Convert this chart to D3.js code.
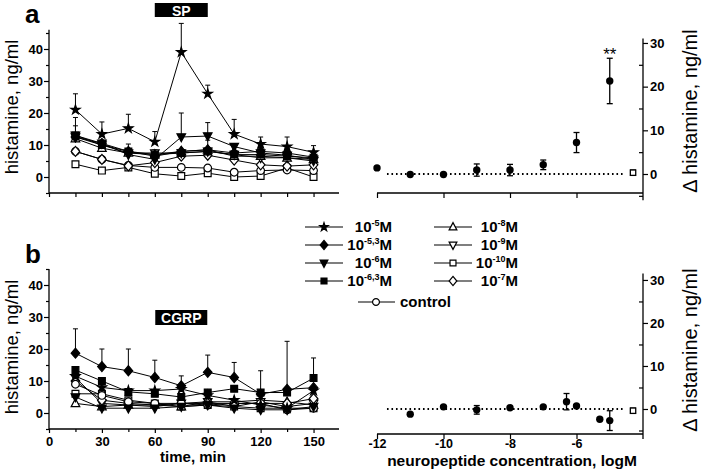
<!DOCTYPE html>
<html><head><meta charset="utf-8">
<script src="https://cdn.jsdelivr.net/npm/d3@7"></script>
<style>
body{margin:0;background:#fff}
svg{display:block;font-family:"Liberation Sans",Arial,Helvetica,sans-serif}
</style></head><body>
<svg id="c" width="703" height="470"></svg>
<script>
// ---------- DATA ----------
const times = [15,30,45,60,75,90,105,120,135,150];
const timeTicks = [0,30,60,90,120,150];
const histTicks = [0,10,20,30,40];
const deltaTicks = [0,10,20,30];
const logTicks = [-12,-10,-8,-6];

// Panel a (SP) time courses, ng/ml
const spE5    = [21,13.4,15.2,11,39,26,13.4,10.3,9.5,7.7];
const spE5err = [5,3.8,4.4,3.2,9,2.7,4.6,2.2,3,2.1];
const spE53   = [12.5,10.5,8,6.5,8,8.5,7.5,8,7.5,6.2];
const spE53err= [0,0,0,0,0,3,0,2,2,1.5];
const spE6    = [13,10.5,7,5.5,12.5,12.8,9.5,7.5,6.8,5.5];
const spE6err = [5.6,0,0,0,7.5,4.2,0,0,0,0];
const spE63   = [13,10,8,7,7.5,8,7,7,6.5,6];
const spE63err= [3,1.5,2.3,1.5,0,0,0,0,0,0];
const spE8    = [12,9,7.5,7,8,8.5,6.5,6.5,6,5.5];
const spE9    = [12.5,10,7.5,7.5,7.5,8,7,6,6,5];
const spE7    = [8,5.5,3.5,4.5,6.5,6.8,5.3,3.8,3.4,3.8];
const spCtrl  = [8,5.5,3.6,3,3,2.8,1.5,2,2.2,2];
const spE10   = [4,2,3,1,0.3,1.2,0,0.3,2.8,0];

// Panel b (CGRP) time courses, ng/ml
const cgE5    = [11.5,8,7,7,7.5,5.5,4,2.5,1.5,7];
const cgE53   = [18.7,14.5,13.2,11.1,8.5,12.7,11.1,5.9,7.4,7.9];
const cgE53err= [7.6,5.5,6.8,5.4,3.1,5.4,4.7,7.3,0,0];
const cgE6    = [5,1.5,1.5,1.5,2,2.5,1.5,1,1,2];
const cgE63   = [13.4,10,6.6,6,5,6.4,7.6,6.4,6.4,10.9];
const cgE63err= [0,0,0,0,0,0,0,0,16,6.3];
const cgE8    = [3,2,2.5,2.5,2,3.5,3.5,4,3.5,2.5];
const cgE9    = [11,3,2.5,2,3,3.5,2,3.5,2,3];
const cgE7    = [10,4,3,2.5,3,3,3,3,3,4.5];
const cgCtrl  = [9,5.5,3.5,3,3,2.5,3,3,1,1.5];
const cgE10   = [6,6,4,3,2,2.5,2,1.5,1.5,1.5];

// Dose-response (delta histamine, ng/ml)
const spDoseX   = [-12,-11,-10,-9,-8,-7,-6,-5];
const spDoseY   = [1.4,-0.1,-0.1,0.9,0.9,2.1,7.2,21.3];
const spDoseErr = [0,0,0,1.4,1.3,1.1,2.3,5.2];
const spCtrlDose = [-4.3, 0.3, 0.6];
const cgDoseX   = [-11,-10,-9,-8,-7,-6.3,-6,-5.3,-5];
const cgDoseY   = [-1.2,0.5,-0.2,0.3,0.5,1.7,0.7,-2.4,-2.7];
const cgDoseErr = [0,0,1,0,0,1.9,0,0,2.3];
const cgCtrlDose = [-4.3, -0.4, 0.6];

// Legend
const legendLeft  = [["e5","-5"],["e53","-5,3"],["e6","-6"],["e63","-6,3"]];
const legendRight = [["e8","-8"],["e9","-9"],["e10","-10"],["e7","-7"]];

// ---------- STYLE ----------
const shapeOf = {e5:"star",e53:"diamond",e6:"tridown",e63:"square",
  e8:"triup",e9:"tridown",e10:"square",e7:"diamond",ctrl:"circle"};
const filledOf = {e5:true,e53:true,e6:true,e63:true,e8:false,e9:false,e10:false,e7:false,ctrl:false};

const svg = d3.select("#c");
const FONT = '"Liberation Sans",Arial,Helvetica,sans-serif';

function markerPath(shape, k){
  const s = 4.3*(k||1);
  switch(shape){
    case "star": return d3.symbol(d3.symbolStar, 27*(k||1)*(k||1))();
    case "diamond": return `M0,${-s-0.7}L${s},0L0,${s+0.7}L${-s},0Z`;
    case "square": return `M${-s+0.9},${-s+0.9}H${s-0.9}V${s-0.9}H${-s+0.9}Z`;
    case "triup": return `M0,${-s-0.5}L${s},${s*0.75}L${-s},${s*0.75}Z`;
    case "tridown": return `M0,${s+0.5}L${s},${-s*0.75}L${-s},${-s*0.75}Z`;
    case "circle": return d3.symbol(d3.symbolCircle, 46*(k||1)*(k||1))();
  }
}
function drawMarker(g, key, cx, cy, k){
  g.append("path").attr("d", markerPath(shapeOf[key], k))
    .attr("transform", `translate(${cx},${cy})`)
    .attr("fill", filledOf[key] ? "#000" : "#fff")
    .attr("stroke", "#000").attr("stroke-width", 1.2);
}

// ---------- SCALES ----------
const xT = d3.scaleLinear().domain([0,165]).range([49,340]);
const yA = d3.scaleLinear().domain([-5,46]).range([193,29.8]);
const yB = d3.scaleLinear().domain([-5,45]).range([429,269]);
const xL = d3.scaleLinear().domain([-12,-4]).range([377,643]);
const yRA = d3.scaleLinear().domain([-6,31]).range([200.2,38.6]);
const yRB = d3.scaleLinear().domain([-7,31.5]).range([439.1,273.5]);

function styleAxis(g, size){
  g.selectAll("path.domain").attr("stroke","#000").attr("stroke-width",1.3);
  g.selectAll(".tick line").attr("stroke","#000").attr("stroke-width",1.2);
  g.selectAll("text").attr("font-family",FONT).attr("font-weight","bold")
    .attr("font-size",size||13).attr("fill","#000");
}
const plain = d => String(d);

function timePanel(y, yBottom, series, labelX){
  const ga = svg.append("g").attr("transform","translate(49,0)")
    .call(d3.axisLeft(y).tickValues(histTicks).tickSize(5).tickPadding(1).tickFormat(plain));
  styleAxis(ga);
  const gm = svg.append("g").attr("transform","translate(49,0)")
    .call(d3.axisLeft(y).tickValues([-5,5,15,25,35,45]).tickSize(3).tickFormat(""));
  styleAxis(gm); gm.select("path.domain").remove();
  const gx = svg.append("g").attr("transform",`translate(0,${yBottom})`)
    .call(d3.axisBottom(xT).tickValues(labelX ? timeTicks : [0,15,30,45,60,75,90,105,120,135,150])
      .tickSize(4).tickPadding(4).tickFormat(labelX ? plain : ""));
  styleAxis(gx);
  if(labelX){
    const gx2 = svg.append("g").attr("transform",`translate(0,${yBottom})`)
      .call(d3.axisBottom(xT).tickValues([15,45,75,105,135]).tickSize(3).tickFormat(""));
    styleAxis(gx2); gx2.select("path.domain").remove();
  }
  gx.select("path.domain").attr("d", `M${xT(0)},0H${xT(165)-1}`);
  ga.select("path.domain").attr("d", `M0,${y(-5)}V${y.range()[1]}`);

  const line = d3.line().x((d,i)=>xT(times[i])).y(d=>y(d));
  const g = svg.append("g");
  series.forEach(s=>{
    g.append("path").attr("d", line(s.v)).attr("fill","none")
      .attr("stroke","#000").attr("stroke-width",1);
  });
  series.forEach(s=>{
    if(!s.err) return;
    s.err.forEach((e,i)=>{
      if(!e) return;
      const cx = xT(times[i]);
      g.append("line").attr("x1",cx).attr("x2",cx).attr("y1",y(s.v[i])).attr("y2",y(s.v[i]+e))
        .attr("stroke","#000").attr("stroke-width",1);
      g.append("line").attr("x1",cx-2.5).attr("x2",cx+2.5).attr("y1",y(s.v[i]+e)).attr("y2",y(s.v[i]+e))
        .attr("stroke","#000").attr("stroke-width",1);
    });
  });
  series.forEach(s=>{
    s.v.forEach((v,i)=>drawMarker(g, s.key, xT(times[i]), y(v)));
  });
}

function dosePanel(y, yBottom, xs, ys, errs, ctrl, showLabels){
  const gx = svg.append("g").attr("transform",`translate(0,${yBottom})`)
    .call(d3.axisBottom(xL).tickValues(logTicks).tickSize(5).tickPadding(0)
      .tickFormat(showLabels ? plain : ""));
  styleAxis(gx, 12.5);
  gx.select("path.domain").attr("d", `M${xL(-12)},0H${xL(-4)}`);
  const gy = svg.append("g").attr("transform","translate(643,0)")
    .call(d3.axisRight(y).tickValues(deltaTicks).tickSize(5).tickPadding(2).tickFormat(plain));
  styleAxis(gy);
  gy.select("path.domain").attr("d", `M0,${y.range()[0]}V${y.range()[1]}`);
  const gm = svg.append("g").attr("transform","translate(643,0)")
    .call(d3.axisLeft(y).tickValues([-5,5,15,25]).tickSize(4).tickFormat(""));
  styleAxis(gm); gm.select("path.domain").remove();

  const g = svg.append("g");
  g.append("line").attr("x1",xL(-11.7)).attr("x2",xL(-4.55)).attr("y1",y(0)).attr("y2",y(0))
    .attr("stroke","#000").attr("stroke-width",1.8).attr("stroke-dasharray","1.6,2.9");
  const bar = (cx, v, e)=>{
    g.append("line").attr("x1",cx).attr("x2",cx).attr("y1",y(v-e)).attr("y2",y(v+e))
      .attr("stroke","#000").attr("stroke-width",1.3);
    [v-e, v+e].forEach(t=>g.append("line").attr("x1",cx-3).attr("x2",cx+3)
      .attr("y1",y(t)).attr("y2",y(t)).attr("stroke","#000").attr("stroke-width",1.3));
  };
  xs.forEach((x,i)=>{ if(errs[i]) bar(xL(x), ys[i], errs[i]); });
  xs.forEach((x,i)=>{
    g.append("circle").attr("cx",xL(x)).attr("cy",y(ys[i])).attr("r",3.7).attr("fill","#000");
  });
  bar(xL(ctrl[0]), ctrl[1], ctrl[2]);
  g.append("rect").attr("x",xL(ctrl[0])-2.7).attr("y",y(ctrl[1])-2.7).attr("width",5.4).attr("height",5.4)
    .attr("fill","#fff").attr("stroke","#000").attr("stroke-width",1.3);
}

// ---------- PANEL A ----------
timePanel(yA, 193, [
  {key:"e10", v:spE10},
  {key:"ctrl", v:spCtrl},
  {key:"e7", v:spE7},
  {key:"e9", v:spE9},
  {key:"e8", v:spE8},
  {key:"e63", v:spE63, err:spE63err},
  {key:"e53", v:spE53, err:spE53err},
  {key:"e6", v:spE6, err:spE6err},
  {key:"e5", v:spE5, err:spE5err}
], false);
dosePanel(yRA, 193, spDoseX, spDoseY, spDoseErr, spCtrlDose, false);

// ---------- PANEL B ----------
timePanel(yB, 429, [
  {key:"e10", v:cgE10},
  {key:"e8", v:cgE8},
  {key:"e9", v:cgE9},
  {key:"e7", v:cgE7},
  {key:"ctrl", v:cgCtrl},
  {key:"e6", v:cgE6},
  {key:"e5", v:cgE5},
  {key:"e63", v:cgE63, err:cgE63err},
  {key:"e53", v:cgE53, err:cgE53err}
], true);
dosePanel(yRB, 434, cgDoseX, cgDoseY, cgDoseErr, cgCtrlDose, true);

// ---------- TEXT ----------
function txt(x,y,s,opts){
  const t = svg.append("text").attr("x",x).attr("y",y).text(s)
    .attr("font-family",FONT).attr("fill",opts.fill||"#000")
    .attr("font-size",opts.size).attr("font-weight",opts.weight||"normal")
    .attr("text-anchor",opts.anchor||"start");
  if(opts.rot) t.attr("transform",`rotate(${opts.rot},${x},${y})`);
  return t;
}
txt(25,23,"a",{size:26,weight:"bold"});
txt(25,263,"b",{size:26,weight:"bold"});
txt(18,107,"histamine, ng/ml",{size:18.5,anchor:"middle",rot:-90});
txt(18,347,"histamine, ng/ml",{size:18.5,anchor:"middle",rot:-90});
txt(697,111,"Δ histamine, ng/ml",{size:20,anchor:"middle",rot:-90});
txt(697,350,"Δ histamine, ng/ml",{size:20,anchor:"middle",rot:-90});
txt(193,462,"time, min",{size:15,weight:"bold",anchor:"middle"});
txt(512,466,"neuropeptide concentration, logM",{size:15.5,weight:"bold",anchor:"middle"});
txt(xL(-5),60,"**",{size:17,anchor:"middle"});

// stimulus boxes
svg.append("rect").attr("x",xT(75)-26.5).attr("y",3).attr("width",53).attr("height",14).attr("fill","#000");
txt(xT(75),15.5,"SP",{size:14,weight:"bold",anchor:"middle",fill:"#fff"});
svg.append("rect").attr("x",xT(75)-26).attr("y",310).attr("width",52).attr("height",15).attr("fill","#000");
txt(xT(75),322.5,"CGRP",{size:14,weight:"bold",anchor:"middle",fill:"#fff"});

// ---------- LEGEND ----------
const rowsY = [227,245,263,281];
function legendItem(key, lx, cy, exp, textEnd){
  svg.append("line").attr("x1",lx-19).attr("x2",lx+19).attr("y1",cy).attr("y2",cy)
    .attr("stroke","#000").attr("stroke-width",1.2);
  drawMarker(svg, key, lx, cy, 0.9);
  const t = svg.append("text").attr("x",textEnd).attr("y",cy+5)
    .attr("font-family",FONT).attr("font-weight","bold").attr("font-size",15)
    .attr("text-anchor","end");
  t.append("tspan").text("10");
  t.append("tspan").attr("dy",-6).attr("font-size",9).text(exp);
  t.append("tspan").attr("dy",6).text("M");
}
legendLeft.forEach((d,i)=>legendItem(d[0],324,rowsY[i],d[1],392));
legendRight.forEach((d,i)=>legendItem(d[0],453,rowsY[i],d[1],518));
svg.append("line").attr("x1",358).attr("x2",395).attr("y1",302).attr("y2",302)
  .attr("stroke","#000").attr("stroke-width",1.2);
drawMarker(svg,"ctrl",376,302,0.9);
txt(400,307,"control",{size:15,weight:"bold"});
</script></body></html>
